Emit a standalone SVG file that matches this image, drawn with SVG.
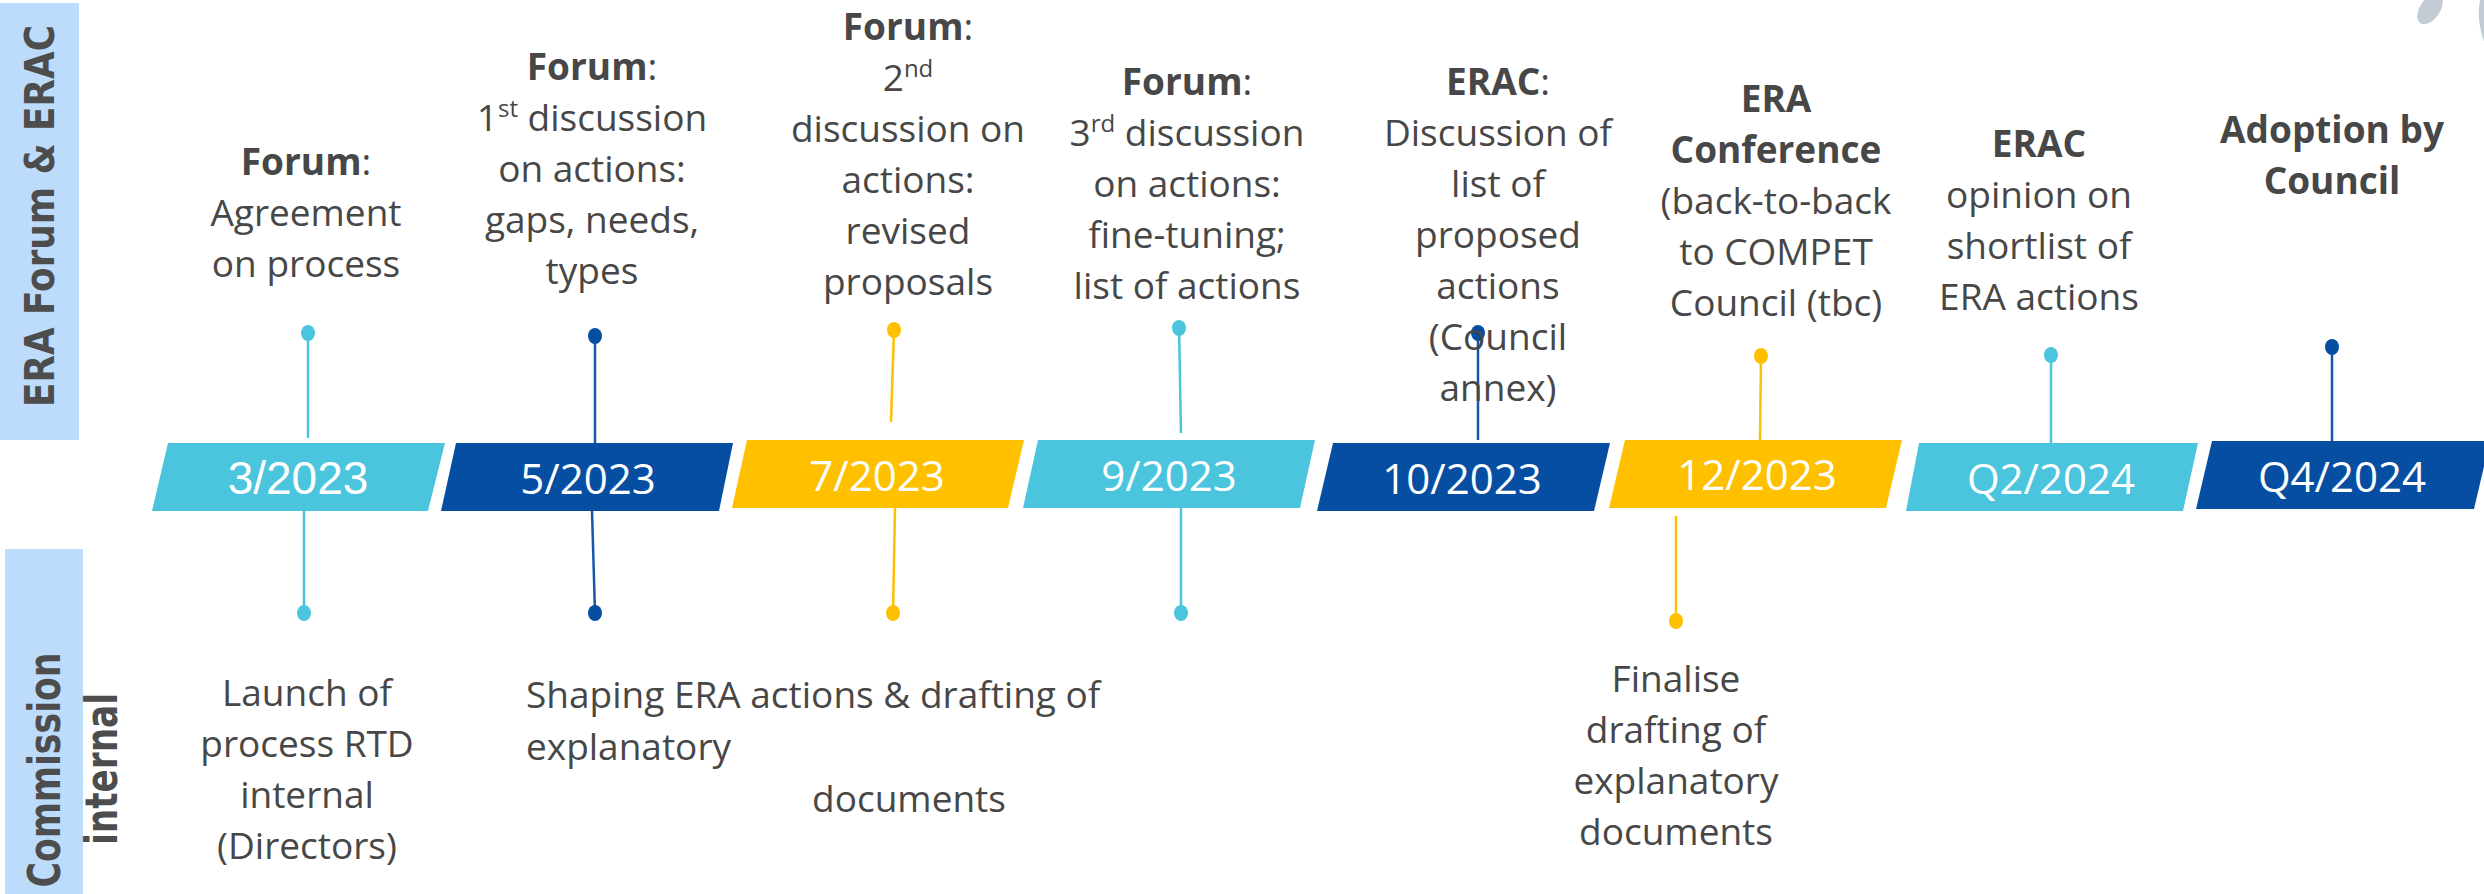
<svg xmlns="http://www.w3.org/2000/svg" width="2484" height="894" viewBox="0 0 2484 894">
<style>
.lane{fill:#BDDCFC}
.lanet{font-family:"DejaVu Sans",Verdana,sans-serif;font-weight:bold;fill:#4D4D4D}
.t{font-family:"Open Sans","Noto Sans",sans-serif;font-size:37px;fill:#474747;text-anchor:middle}
.s{text-anchor:start}
.b{font-weight:bold}
.sup{font-size:24px}
.d{font-family:"Open Sans","Noto Sans",sans-serif;font-size:42px;fill:#FFFFFF;text-anchor:middle}
.cy{fill:#4BC5DE}.db{fill:#054EA2}.ye{fill:#FFC000}
.lc{stroke:#4BC5DE;stroke-width:2.5;fill:none}
.ld{stroke:#1556A8;stroke-width:2.5;fill:none}
.ly{stroke:#FFC000;stroke-width:2.5;fill:none}
</style>
<rect width="2484" height="894" fill="#FFFFFF"/>
<g id="deco">
<ellipse cx="2430" cy="9" rx="10" ry="17" transform="rotate(35 2430 9)" fill="#C3CBD4"/>
<path d="M2484 0 L2480 0 Q2476 18 2484 42 Z" fill="#C3CBD4"/>
</g>
<g id="lane-era">
<rect class="lane" x="0" y="3" width="79" height="437"/>
<text class="lanet" font-size="41" text-anchor="middle" textLength="382" lengthAdjust="spacingAndGlyphs" transform="translate(54 216) rotate(-90)">ERA Forum &amp; ERAC</text>
</g>
<g id="lane-commission">
<rect class="lane" x="5" y="549" width="78" height="345"/>
<text class="lanet" font-size="44" text-anchor="middle" textLength="235" lengthAdjust="spacingAndGlyphs" transform="translate(60 770) rotate(-90)">Commission</text>
<text class="lanet" font-size="44" text-anchor="middle" textLength="152" lengthAdjust="spacingAndGlyphs" transform="translate(117 769) rotate(-90)">internal</text>
</g>
<g id="connectors">
<line class="lc" x1="308" y1="333" x2="308" y2="438"/>
<line class="ld" x1="595" y1="336" x2="595" y2="443"/>
<line class="ly" x1="894" y1="330" x2="891" y2="422"/>
<line class="lc" x1="1179" y1="328" x2="1181" y2="433"/>
<line class="ld" x1="1478" y1="333" x2="1478" y2="440"/>
<line class="ly" x1="1761" y1="356" x2="1760" y2="440"/>
<line class="lc" x1="2051" y1="355" x2="2051" y2="443"/>
<line class="ld" x1="2332" y1="347" x2="2332" y2="441"/>
<line class="lc" x1="304" y1="511" x2="304" y2="613"/>
<line class="ld" x1="592" y1="511" x2="595" y2="613"/>
<line class="ly" x1="895" y1="508" x2="893" y2="613"/>
<line class="lc" x1="1181" y1="508" x2="1181" y2="613"/>
<line class="ly" x1="1676" y1="516" x2="1676" y2="621"/>
<ellipse class="cy" cx="308" cy="333" rx="7" ry="8"/>
<ellipse class="db" cx="595" cy="336" rx="7" ry="8"/>
<ellipse class="ye" cx="894" cy="330" rx="7" ry="8"/>
<ellipse class="cy" cx="1179" cy="328" rx="7" ry="8"/>
<ellipse class="db" cx="1478" cy="333" rx="7" ry="8"/>
<ellipse class="ye" cx="1761" cy="356" rx="7" ry="8"/>
<ellipse class="cy" cx="2051" cy="355" rx="7" ry="8"/>
<ellipse class="db" cx="2332" cy="347" rx="7" ry="8"/>
<ellipse class="cy" cx="304" cy="613" rx="7" ry="8"/>
<ellipse class="db" cx="595" cy="613" rx="7" ry="8"/>
<ellipse class="ye" cx="893" cy="613" rx="7" ry="8"/>
<ellipse class="cy" cx="1181" cy="613" rx="7" ry="8"/>
<ellipse class="ye" cx="1676" cy="621" rx="7" ry="8"/>
</g>
<g id="m1">
<polygon class="cy" points="168,443 445,443 428,511 152,511"/>
<text x="298" y="494" font-family="'Liberation Sans',Arial,sans-serif" font-size="46" fill="#FFFFFF" text-anchor="middle">3/2023</text>
<text class="t" x="306" y="175"><tspan class="b">Forum</tspan>:</text>
<text class="t" x="306" y="226">Agreement</text>
<text class="t" x="306" y="277">on process</text>
<text class="t" x="307" y="706">Launch of</text>
<text class="t" x="307" y="757">process RTD</text>
<text class="t" x="307" y="808">internal</text>
<text class="t" x="307" y="859">(Directors)</text>
</g>
<g id="m2">
<polygon class="db" points="456,443 733,443 719,511 441,511"/>
<text class="d" x="588" y="494">5/2023</text>
<text class="t" x="592" y="80"><tspan class="b">Forum</tspan>:</text>
<text class="t" x="592" y="131">1<tspan class="sup" dy="-14">st</tspan><tspan dy="14"> discussion</tspan></text>
<text class="t" x="592" y="182">on actions:</text>
<text class="t" x="592" y="233">gaps, needs,</text>
<text class="t" x="592" y="284">types</text>
<text class="t s" x="526" y="708">Shaping ERA actions &amp; drafting of</text>
<text class="t s" x="526" y="760">explanatory</text>
<text class="t" x="909" y="812">documents</text>
</g>
<g id="m3">
<polygon class="ye" points="747,440 1024,440 1008,508 732,508"/>
<text class="d" x="877" y="491">7/2023</text>
<text class="t" x="908" y="40"><tspan class="b">Forum</tspan>:</text>
<text class="t" x="908" y="91">2<tspan class="sup" dy="-14">nd</tspan></text>
<text class="t" x="908" y="142">discussion on</text>
<text class="t" x="908" y="193">actions:</text>
<text class="t" x="908" y="244">revised</text>
<text class="t" x="908" y="295">proposals</text>
</g>
<g id="m4">
<polygon class="cy" points="1038,440 1315,440 1300,508 1023,508"/>
<text class="d" x="1169" y="491">9/2023</text>
<text class="t" x="1187" y="95"><tspan class="b">Forum</tspan>:</text>
<text class="t" x="1187" y="146">3<tspan class="sup" dy="-14">rd</tspan><tspan dy="14"> discussion</tspan></text>
<text class="t" x="1187" y="197">on actions:</text>
<text class="t" x="1187" y="248">fine-tuning;</text>
<text class="t" x="1187" y="299">list of actions</text>
</g>
<g id="m5">
<polygon class="db" points="1333,443 1610,443 1594,511 1317,511"/>
<text class="d" x="1462" y="494">10/2023</text>
<text class="t" x="1498" y="95"><tspan class="b">ERAC</tspan>:</text>
<text class="t" x="1498" y="146">Discussion of</text>
<text class="t" x="1498" y="197">list of</text>
<text class="t" x="1498" y="248">proposed</text>
<text class="t" x="1498" y="299">actions</text>
<text class="t" x="1498" y="350">(Council</text>
<text class="t" x="1498" y="401">annex)</text>
</g>
<g id="m6">
<polygon class="ye" points="1625,440 1902,440 1886,508 1609,508"/>
<text class="d" x="1757" y="490">12/2023</text>
<text class="t b" x="1776" y="112">ERA</text>
<text class="t b" x="1776" y="163">Conference</text>
<text class="t" x="1776" y="214">(back-to-back</text>
<text class="t" x="1776" y="265">to COMPET</text>
<text class="t" x="1776" y="316">Council (tbc)</text>
<text class="t" x="1676" y="692">Finalise</text>
<text class="t" x="1676" y="743">drafting of</text>
<text class="t" x="1676" y="794">explanatory</text>
<text class="t" x="1676" y="845">documents</text>
</g>
<g id="m7">
<polygon class="cy" points="1919,443 2198,443 2183,511 1906,511"/>
<text class="d" x="2051" y="494">Q2/2024</text>
<text class="t b" x="2039" y="157">ERAC</text>
<text class="t" x="2039" y="208">opinion on</text>
<text class="t" x="2039" y="259">shortlist of</text>
<text class="t" x="2039" y="310">ERA actions</text>
</g>
<g id="m8">
<polygon class="db" points="2212,441 2490,441 2474,509 2196,509"/>
<text class="d" x="2342" y="492">Q4/2024</text>
<text class="t b" x="2332" y="143">Adoption by</text>
<text class="t b" x="2332" y="194">Council</text>
</g>
</svg>
